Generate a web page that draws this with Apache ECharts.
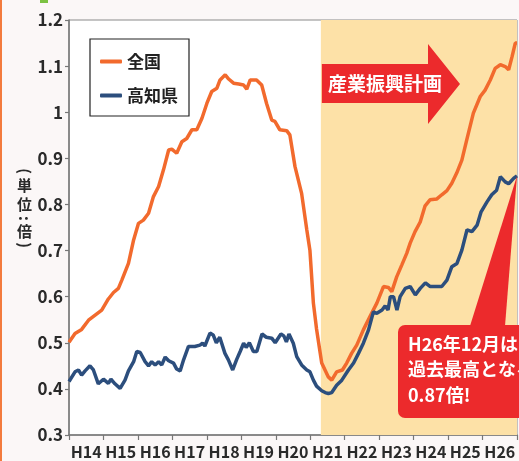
<!DOCTYPE html>
<html><head><meta charset="utf-8">
<script src="https://cdn.jsdelivr.net/npm/echarts@6/dist/echarts.min.js"></script>
<style>html,body{margin:0;padding:0;background:#fbf7f7}#c{width:519px;height:461px}</style>
</head><body><div id="c"></div>
<script>
// Categories (fiscal-year labels on the x axis)
const yearLabels = ['H14','H15','H16','H17','H18','H19','H20','H21','H22','H23','H24','H25','H26'];
// y axis range / ticks
const yMin = 0.3, yMax = 1.2, yStep = 0.1;
// x positions in months from start of H14
const totalMonths = 156;
const shadeStartMonth = 87.7;   // start of 産業振興計画 period

// 全国 (national) – month positions and values
const nationX = [0,2.1,4.4,6.8,9.1,11.4,13.7,15.5,17.2,18.4,20.7,22.5,24.2,25.9,27.7,29.4,31.2,32.9,34.7,35.8,37.5,39.3,41,42.8,44.5,46.3,48,49.7,51.5,52.6,54.4,55.6,57.3,59.1,60.8,61.9,63.1,65.3,67.1,68.8,70.6,71.7,73.4,75.8,76.9,78.7,81,82.8,83.9,85.1,86.2,88,90.3,91.5,93.2,95.2,96.7,98.4,100.2,102.5,104.8,107.2,109.5,111.2,112.4,114.1,115.9,117.6,118.8,120.5,122.3,124,125.7,128.1,129.8,131.6,133.3,135,136.8,138.5,140.8,143.2,144.9,146.7,148.4,150.2,151.9,153.1,154.3,155.4,156];
const nationY = [0.501,0.52,0.529,0.549,0.56,0.571,0.595,0.609,0.618,0.636,0.672,0.723,0.759,0.766,0.781,0.817,0.839,0.875,0.918,0.92,0.911,0.936,0.943,0.962,0.962,0.987,1.019,1.045,1.052,1.07,1.081,1.072,1.063,1.061,1.059,1.05,1.07,1.07,1.059,1.019,0.983,0.98,0.962,0.96,0.951,0.882,0.824,0.745,0.70,0.586,0.53,0.456,0.426,0.419,0.437,0.441,0.456,0.477,0.495,0.528,0.557,0.586,0.622,0.62,0.611,0.643,0.669,0.694,0.716,0.741,0.762,0.797,0.81,0.812,0.821,0.83,0.846,0.868,0.896,0.94,0.998,1.034,1.048,1.07,1.095,1.103,1.099,1.092,1.121,1.15,1.15];

// 高知県 (Kochi) – month positions and values
const kochiX = [0,2.1,3.3,4.4,5.6,7.3,8.5,10.2,12,13.7,14.6,16,17.8,19.5,20.7,22.5,23.6,24.8,26.5,27.7,28.8,30,31.2,32.3,33.5,34.7,36.4,37.5,38.7,39.9,41.6,43.8,45.6,46.5,47.3,49.1,50.2,51.3,52.5,54.3,55.5,57,58.4,59.6,60.8,61.7,62.8,64.2,65.4,67.2,68.7,70.6,71.8,73.8,74.8,75.7,76.6,78.1,79.3,81,82.8,83.9,85.1,86.2,88,89.2,90.3,91.5,93.2,95,97.3,99.1,100.8,102.5,104.3,106,107.2,109,110.1,111.1,111.9,113,114.2,115.3,117.1,118.8,120.6,122.3,124.1,125.8,128.1,129.8,131.6,133.3,135.1,136.8,138.6,140.3,142.1,143.5,145.5,147.2,148.9,150.2,151.9,153.1,154.9,156];
const kochiY = [0.416,0.437,0.441,0.43,0.439,0.45,0.441,0.411,0.421,0.412,0.421,0.411,0.401,0.419,0.439,0.459,0.481,0.479,0.459,0.45,0.459,0.452,0.459,0.452,0.469,0.461,0.456,0.443,0.439,0.463,0.492,0.492,0.495,0.499,0.493,0.521,0.517,0.5,0.512,0.477,0.463,0.441,0.464,0.481,0.499,0.49,0.5,0.481,0.481,0.519,0.512,0.51,0.5,0.519,0.515,0.502,0.519,0.499,0.47,0.452,0.441,0.437,0.419,0.406,0.396,0.392,0.39,0.392,0.408,0.419,0.441,0.456,0.477,0.499,0.528,0.567,0.564,0.571,0.58,0.571,0.6,0.6,0.571,0.6,0.618,0.622,0.604,0.618,0.63,0.622,0.622,0.622,0.636,0.665,0.672,0.701,0.745,0.741,0.755,0.784,0.805,0.821,0.831,0.86,0.849,0.845,0.857,0.862];

const seriesNames = ['全国','高知県'];
const FONT = '"Noto Sans CJK JP", "Noto Sans", sans-serif';

const chart = echarts.init(document.getElementById('c'), null, {renderer:'canvas'});
const pairs = (xs, ys) => xs.map((x, i) => [x, ys[i]]);

chart.setOption({
  animation: false,
  backgroundColor: '#fbf7f7',
  textStyle: {fontFamily: FONT},
  grid: {left: 69, right: 2, top: 20, bottom: 26, show: true, backgroundColor: '#ffffff', borderColor: '#8a8a8a', borderWidth: 1},
  legend: {
    data: seriesNames, orient: 'vertical', left: 90, top: 39,
    padding: [14, 11, 12, 10], itemGap: 17, itemWidth: 22, itemHeight: 4, icon: 'roundRect',
    backgroundColor: '#ffffff', borderColor: '#222', borderWidth: 1.2,
    textStyle: {fontSize: 17, fontWeight: 'bold', color: '#222', fontFamily: FONT}
  },
  xAxis: [
    {type: 'category', data: yearLabels, boundaryGap: true, gridIndex: 0,
     axisLine: {lineStyle: {color: '#777', width: 1.5}},
     axisTick: {show: true, length: 5, lineStyle: {color: '#777', width: 1.2}},
     axisLabel: {fontSize: 16, fontWeight: 'bold', color: '#2a2a2a', margin: 9, fontFamily: FONT, interval: 0},
     splitLine: {show: false}},
    {type: 'value', min: 0, max: totalMonths, show: false, gridIndex: 0, splitLine: {show: false}}
  ],
  yAxis: {
    type: 'value', min: yMin, max: yMax, interval: yStep,
    axisLine: {show: true, lineStyle: {color: '#777', width: 1.5}},
    axisTick: {show: true, length: 4, lineStyle: {color: '#777', width: 1.2}},
    axisLabel: {fontSize: 17, fontWeight: 'bold', color: '#2a2a2a', margin: 6, fontFamily: FONT},
    splitLine: {show: false}
  },
  series: [
    {name: seriesNames[0], type: 'line', xAxisIndex: 1, yAxisIndex: 0, data: pairs(nationX, nationY),
     symbol: 'none', lineStyle: {color: '#F26A2D', width: 3.5}, itemStyle: {color: '#F26A2D'}, z: 3,
     markArea: {silent: true, itemStyle: {color: '#FDE1A7'}, data: [[{xAxis: shadeStartMonth}, {xAxis: totalMonths}]]}},
    {name: seriesNames[1], type: 'line', xAxisIndex: 1, yAxisIndex: 0, data: pairs(kochiX, kochiY),
     symbol: 'none', lineStyle: {color: '#2C4E7D', width: 3.5}, itemStyle: {color: '#2C4E7D'}, z: 4}
  ]
});

// vertical axis name, one character at a time (brackets/colon turned for vertical writing)
const nameChars = [
  {t: '(', y: 171, rot: true}, {t: '単', y: 185.5}, {t: '位', y: 204.5},
  {t: ':', y: 218.5, rot: true}, {t: '倍', y: 231.5}, {t: ')', y: 245, rot: true}
];
const nameGraphics = nameChars.map(c => ({
  type: 'text', x: 24.5, y: c.y, rotation: c.rot ? -Math.PI / 2 : 0, z: 100,
  style: {text: c.t, fill: '#2a2a2a', font: 'bold 15px ' + FONT, align: 'center', verticalAlign: 'middle'}
}));

// annotations anchored to data coordinates
const tip = chart.convertToPixel({seriesIndex: 1}, [kochiX[kochiX.length-1], kochiY[kochiY.length-1]]);
const shadeX = chart.convertToPixel({seriesIndex: 0}, [shadeStartMonth, yMin])[0];
const RED = '#EC2A2C';
chart.setOption({
  graphic: [
    {type: 'rect', left: 0, top: 0, shape: {width: 2, height: 461}, style: {fill: '#F37B3D'}, z: 100},
    {type: 'rect', left: 40, top: 0, shape: {width: 8, height: 3}, style: {fill: '#7CC243'}, z: 100},
    ...nameGraphics,
    {type: 'polygon', z: 100,
     shape: {points: [[shadeX+1,64],[428,64],[428,44],[460,84],[428,124],[428,103],[shadeX+1,103]]},
     style: {fill: RED}},
    {type: 'text', z: 101, x: 328, y: 84,
     style: {text: '産業振興計画', fill: '#fff', font: 'bold 19px ' + FONT, verticalAlign: 'middle', align: 'left'}},
    {type: 'polygon', z: 100,
     shape: {points: [[470,326],[505,326],[tip[0], tip[1]]]}, style: {fill: RED}},
    {type: 'rect', z: 100, shape: {x: 398, y: 325, width: 140, height: 93, r: 7}, style: {fill: RED}},
    {type: 'text', z: 101, x: 408, y: 331,
     style: {text: 'H26年12月は\n過去最高となる\n0.87倍!', fill: '#fff', font: 'bold 18px ' + FONT, lineHeight: 25.5, verticalAlign: 'top'}}
  ]
});
</script>
</body></html>
